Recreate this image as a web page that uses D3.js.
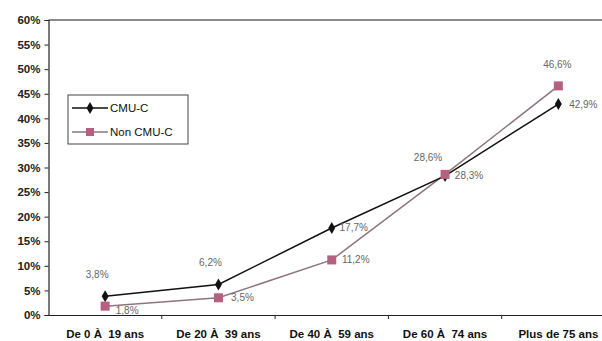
<!DOCTYPE html>
<html>
<head>
<meta charset="utf-8">
<script src="https://cdn.jsdelivr.net/npm/d3@7"></script>
<style>
  html, body { margin: 0; padding: 0; background: #fff; }
  svg { display: block; font-family: Arial, "Liberation Sans", sans-serif; }
</style>
</head>
<body>
<svg id="chart" width="602" height="341"></svg>
<script>
// Age groups along the x axis
const categories = ["De 0 À  19 ans", "De 20 À  39 ans", "De 40 À  59 ans", "De 60 À  74 ans", "Plus de 75 ans"];
// Share of each age group, in percent
const cmuValues    = [3.8, 6.2, 17.7, 28.3, 42.9];
const nonCmuValues = [1.8, 3.5, 11.2, 28.6, 46.6];
const cmuLabels    = ["3,8%", "6,2%", "17,7%", "28,3%", "42,9%"];
const nonCmuLabels = ["1,8%", "3,5%", "11,2%", "28,6%", "46,6%"];
const yTicks = [0, 5, 10, 15, 20, 25, 30, 35, 40, 45, 50, 55, 60];
const seriesNames = ["CMU-C", "Non CMU-C"];

const svg = d3.select("#chart");
const plot = { left: 48.5, right: 615, top: 20, bottom: 315 };

const x = d3.scaleBand().domain(categories).range([plot.left, plot.right]);
const y = d3.scaleLinear().domain([0, 60]).range([plot.bottom, plot.top]);
const cx = d => x(d) + x.bandwidth() / 2;

// top frame line
svg.append("line")
  .attr("x1", plot.left).attr("x2", 602)
  .attr("y1", plot.top).attr("y2", plot.top)
  .attr("stroke", "#8a8a8a").attr("stroke-width", 2);

// y axis
const yAxis = svg.append("g")
  .attr("transform", `translate(${plot.left},0)`)
  .call(d3.axisLeft(y).tickValues(yTicks).tickFormat(d => d + "%").tickSize(4).tickPadding(4));
yAxis.select(".domain").attr("stroke", "#222").attr("stroke-width", 1.2);
yAxis.selectAll(".tick line").attr("stroke", "#222");
yAxis.selectAll("text").attr("font-size", 11.5).attr("font-weight", "bold").attr("fill", "#222");

// x axis with ticks on band boundaries
const xAxis = svg.append("g")
  .attr("transform", `translate(0,${plot.bottom})`)
  .call(d3.axisBottom(x).tickSize(0).tickPadding(15));
xAxis.select(".domain").attr("stroke", "#222").attr("stroke-width", 1.2);
xAxis.selectAll("text").attr("font-size", 11.5).attr("font-weight", "bold").attr("fill", "#111")
  .style("white-space", "pre");
xAxis.selectAll(".bound")
  .data(categories.slice(1))
  .enter().append("line")
  .attr("x1", d => x(d)).attr("x2", d => x(d))
  .attr("y1", 0).attr("y2", 4)
  .attr("stroke", "#222");

const line = d3.line().x(d => cx(d.c)).y(d => y(d.v));
const cmuData = categories.map((c, i) => ({ c, v: cmuValues[i], l: cmuLabels[i] }));
const nonData = categories.map((c, i) => ({ c, v: nonCmuValues[i], l: nonCmuLabels[i] }));

const pinkLine = "#8e7480", pinkMark = "#b5607e";

// Non CMU-C series
svg.append("path").datum(nonData).attr("d", line)
  .attr("fill", "none").attr("stroke", pinkLine).attr("stroke-width", 1.5);
// CMU-C series
svg.append("path").datum(cmuData).attr("d", line)
  .attr("fill", "none").attr("stroke", "#111").attr("stroke-width", 1.5);

const diamond = d3.symbol().type(d3.symbolDiamond).size(42);
svg.selectAll(".cmu").data(cmuData).enter().append("path")
  .attr("d", diamond)
  .attr("transform", d => `translate(${cx(d.c)},${y(d.v)})`)
  .attr("fill", "#111");
svg.selectAll(".non").data(nonData).enter().append("rect")
  .attr("x", d => cx(d.c) - 4.5).attr("y", d => y(d.v) - 4.5)
  .attr("width", 9).attr("height", 9)
  .attr("fill", pinkMark);

// data labels: offsets per point
const cmuOff = [[-8, -22], [-8, -22], [22, 0], [24, 0], [25, 0]];
const nonOff = [[22, 4], [24, 0], [24, 0], [-17, -17], [-1, -21]];
const labelG = svg.append("g").attr("font-size", 10).attr("fill", "#666");
labelG.selectAll(".lc").data(cmuData).enter().append("text")
  .attr("x", (d, i) => cx(d.c) + cmuOff[i][0])
  .attr("y", (d, i) => y(d.v) + cmuOff[i][1] + 3.5)
  .attr("text-anchor", "middle")
  .text(d => d.l);
labelG.selectAll(".ln").data(nonData).enter().append("text")
  .attr("x", (d, i) => cx(d.c) + nonOff[i][0])
  .attr("y", (d, i) => y(d.v) + nonOff[i][1] + 3.5)
  .attr("text-anchor", "middle")
  .text(d => d.l);

// legend
const lg = svg.append("g").attr("transform", "translate(68,95)");
lg.append("rect").attr("width", 120).attr("height", 49)
  .attr("fill", "#fff").attr("stroke", "#444").attr("stroke-width", 1);
seriesNames.forEach((name, i) => {
  const yy = 13 + i * 24;
  lg.append("line").attr("x1", 4).attr("x2", 40).attr("y1", yy).attr("y2", yy)
    .attr("stroke", i === 0 ? "#111" : pinkLine).attr("stroke-width", 1.5);
  if (i === 0) {
    lg.append("path").attr("d", diamond).attr("transform", `translate(22,${yy})`).attr("fill", "#111");
  } else {
    lg.append("rect").attr("x", 18).attr("y", yy - 4).attr("width", 8).attr("height", 8).attr("fill", pinkMark);
  }
  lg.append("text").attr("x", 42).attr("y", yy + 4)
    .attr("font-size", 11.5).attr("fill", "#111").text(name);
});
</script>
</body>
</html>
